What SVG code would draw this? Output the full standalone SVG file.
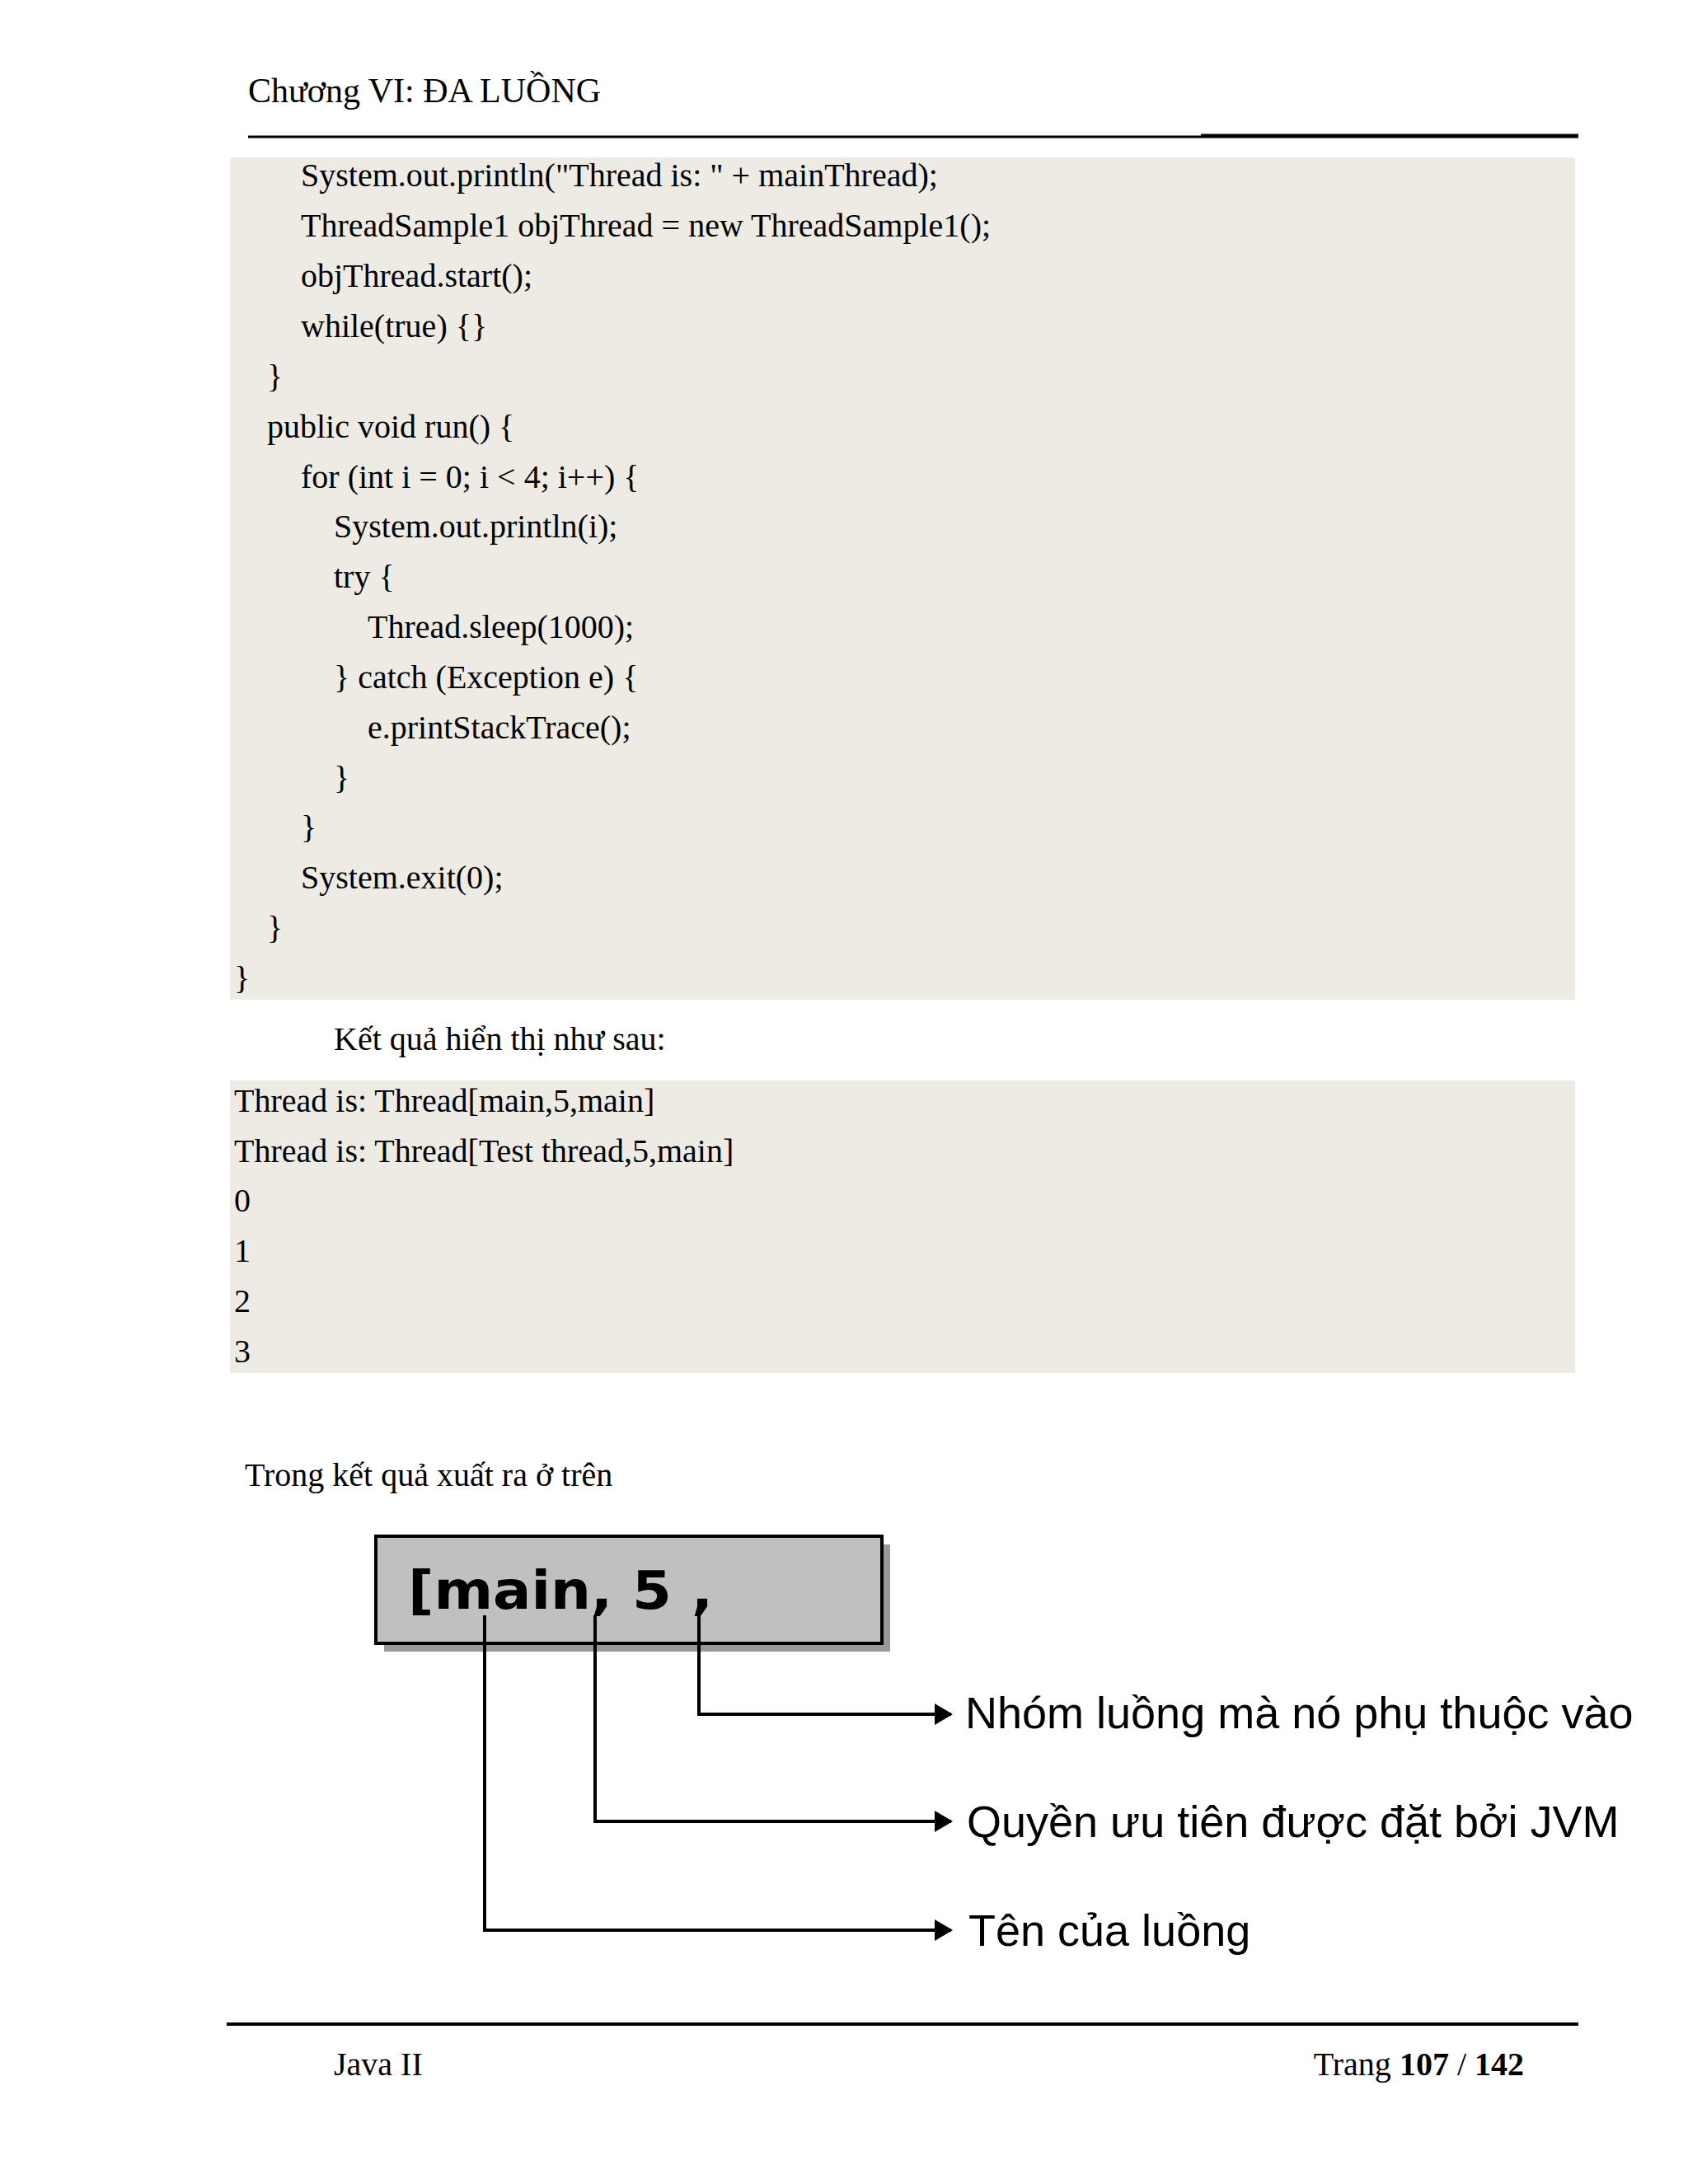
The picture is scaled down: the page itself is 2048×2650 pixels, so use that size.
<svg xmlns="http://www.w3.org/2000/svg" width="2048" height="2650" viewBox="0 0 2048 2650">
<style>
.t{font-family:"Liberation Serif","Times New Roman",serif;font-size:40px;fill:#000}
.l{font-family:"Liberation Sans",Arial,sans-serif;font-size:54px;fill:#000}
.c{stroke:#000;stroke-width:4;fill:none}
</style>
<defs><marker id="a" markerWidth="8" markerHeight="8" refX="7" refY="4" orient="auto" markerUnits="userSpaceOnUse" viewBox="0 0 8 8"><path d="M0,0 L8,4 L0,8 z" fill="#000"/></marker>
<marker id="ah" markerWidth="22" markerHeight="26" refX="20" refY="13" orient="auto" markerUnits="userSpaceOnUse"><path d="M0,0 L22,13 L0,26 z" fill="#000"/></marker></defs>
<rect width="2048" height="2650" fill="#fff"/>
<text class="t" x="301" y="124" style="font-size:42px">Chương VI: ĐA LUỒNG</text>
<line x1="301" y1="166" x2="1457" y2="166" stroke="#000" stroke-width="3"/>
<line x1="1457" y1="165" x2="1915" y2="165" stroke="#000" stroke-width="5"/>
<rect x="279" y="191" width="1632" height="1022" fill="#eeebe5"/>
<g class="code">
<text class="t" x="365" y="226">System.out.println("Thread is: " + mainThread);</text>
<text class="t" x="365" y="287">ThreadSample1 objThread = new ThreadSample1();</text>
<text class="t" x="365" y="348">objThread.start();</text>
<text class="t" x="365" y="409">while(true) {}</text>
<text class="t" x="324" y="470">}</text>
<text class="t" x="324" y="531">public void run() {</text>
<text class="t" x="365" y="592">for (int i = 0; i &lt; 4; i++) {</text>
<text class="t" x="405" y="652">System.out.println(i);</text>
<text class="t" x="405" y="713">try {</text>
<text class="t" x="446" y="774">Thread.sleep(1000);</text>
<text class="t" x="405" y="835">} catch (Exception e) {</text>
<text class="t" x="446" y="896">e.printStackTrace();</text>
<text class="t" x="405" y="957">}</text>
<text class="t" x="365" y="1017">}</text>
<text class="t" x="365" y="1078">System.exit(0);</text>
<text class="t" x="324" y="1139">}</text>
<text class="t" x="284" y="1200">}</text>
</g>
<text class="t" x="405" y="1274">Kết quả hiển thị như sau:</text>
<rect x="279" y="1311" width="1632" height="355" fill="#eeebe5"/>
<text class="t" x="284" y="1349">Thread is: Thread[main,5,main]</text>
<text class="t" x="284" y="1410">Thread is: Thread[Test thread,5,main]</text>
<text class="t" x="284" y="1470">0</text>
<text class="t" x="284" y="1531">1</text>
<text class="t" x="284" y="1592">2</text>
<text class="t" x="284" y="1653">3</text>
<text class="t" x="297" y="1803">Trong kết quả xuất ra ở trên</text>
<g id="box">
<rect x="466" y="1874" width="614" height="130" fill="#999"/>
<rect x="456" y="1864" width="614" height="130" fill="#c0c0c0" stroke="#000" stroke-width="4"/>
<text x="495" y="1952" textLength="370" lengthAdjust="spacingAndGlyphs" style="font-family:'DejaVu Sans',Verdana,sans-serif;font-weight:bold;font-size:64px">[main, 5 ,</text>
</g>
<g id="connectors">
<path class="c" d="M848,1960 V2080 H1154" marker-end="url(#ah)"/>
<path class="c" d="M722,1960 V2210 H1154" marker-end="url(#ah)"/>
<path class="c" d="M588,1960 V2342 H1154" marker-end="url(#ah)"/>
</g>
<g id="l1"><text class="l" x="1171" y="2097">Nhóm luồng mà nó phụ thuộc vào</text></g>
<g id="l2"><text class="l" x="1173" y="2229">Quyền ưu tiên được đặt bởi JVM</text></g>
<g id="l3"><text class="l" x="1175" y="2361">Tên của luồng</text></g>
<line x1="275" y1="2456" x2="1915" y2="2456" stroke="#000" stroke-width="4"/>
<text class="t" x="405" y="2518">Java II</text>
<text class="t" x="1849" y="2518" text-anchor="end">Trang <tspan font-weight="bold">107</tspan> / <tspan font-weight="bold">142</tspan></text>
</svg>
